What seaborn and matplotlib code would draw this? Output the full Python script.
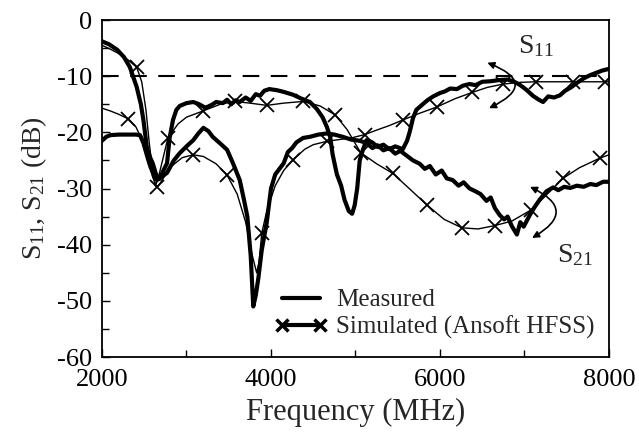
import numpy as np
import pandas as pd
import matplotlib
matplotlib.use("Agg")
import matplotlib.pyplot as plt
from matplotlib.lines import Line2D
import seaborn as sns

# Measured S11 (dB) versus frequency (MHz)
meas_s11_freq = [2000, 2080, 2180, 2260, 2330, 2410, 2460, 2490, 2530, 2570, 2600, 2640, 2680,
                 2720, 2770, 2800, 2840, 2880, 2920, 3000, 3080, 3150, 3220, 3280, 3350, 3430,
                 3480, 3530, 3580, 3630, 3700, 3760, 3820, 3870, 3920, 3980, 4070, 4150, 4260,
                 4360, 4460, 4540, 4610, 4660, 4700, 4730, 4780, 4830, 4870, 4920, 4960, 4990,
                 5020, 5050, 5090, 5130, 5200, 5260, 5330, 5400, 5470, 5560, 5610, 5640, 5680,
                 5720, 5780, 5850, 5920, 6000, 6060, 6120, 6200, 6270, 6350, 6420, 6500, 6600,
                 6700, 6800, 6880, 6950, 7020, 7100, 7170, 7220, 7280, 7350, 7420, 7480, 7550,
                 7620, 7700, 7780, 7850, 7920, 8000]
meas_s11_db = [-3.8, -4.3, -5.3, -6.6, -8.4, -11.9, -15.0, -17.8, -22.6, -24.5, -25.5, -27.5, -28.3,
               -27.0, -25.5, -21.0, -17.8, -16.0, -15.3, -14.8, -14.6, -15.0, -15.6, -15.3, -14.6, -14.8,
               -14.2, -15.0, -14.3, -14.6, -13.8, -14.4, -13.2, -13.5, -12.6, -12.3, -12.5, -12.8, -13.3,
               -14.0, -14.6, -15.8, -17.3, -19.0, -20.8, -24.0, -27.5, -29.5, -32.0, -34.0, -34.5, -33.0,
               -30.0, -25.0, -23.0, -21.4, -21.8, -22.6, -22.2, -23.0, -22.5, -23.0, -21.5, -20.0, -17.5,
               -16.0, -15.2, -14.3, -13.6, -13.0, -12.7, -12.2, -12.3, -11.7, -11.4, -11.6, -11.0, -10.9,
               -10.7, -10.6, -11.0, -11.6, -12.4, -13.5, -14.2, -14.6, -13.6, -13.8, -13.4, -12.6, -12.0,
               -11.2, -10.4, -9.8, -9.4, -9.0, -8.7]

# Measured S21 (dB) versus frequency (MHz)
meas_s21_freq = [2000, 2050, 2100, 2200, 2300, 2400, 2450, 2490, 2530, 2570, 2610, 2650, 2700,
                 2770, 2850, 2920, 3000, 3080, 3140, 3200, 3260, 3310, 3400, 3480, 3550, 3630,
                 3680, 3720, 3760, 3790, 3820, 3850, 3890, 3950, 4000, 4050, 4100, 4150, 4200,
                 4250, 4300, 4380, 4460, 4560, 4660, 4750, 4850, 4950, 5050, 5130, 5200, 5260,
                 5330, 5400, 5470, 5530, 5610, 5680, 5760, 5820, 5880, 5950, 6020, 6080, 6150,
                 6220, 6280, 6350, 6420, 6480, 6550, 6600, 6650, 6710, 6760, 6800, 6850, 6910,
                 6950, 6990, 7060, 7120, 7180, 7260, 7340, 7400, 7470, 7540, 7620, 7700, 7780,
                 7850, 7930, 8000]
meas_s21_db = [-21.5, -20.8, -20.5, -20.4, -20.4, -20.4, -20.5, -21.9, -24.0, -26.0, -27.5, -28.5, -28.0,
               -27.2, -25.0, -23.7, -22.5, -21.4, -20.2, -19.2, -19.8, -20.8, -22.0, -23.1, -25.5, -28.5,
               -32.0, -35.0, -42.0, -51.0, -49.0, -46.0, -41.0, -36.0, -30.0, -27.5, -26.5, -25.5, -23.5,
               -22.8, -21.8, -21.0, -20.8, -20.4, -20.2, -20.4, -20.8, -21.3, -21.5, -21.9, -22.8, -22.3,
               -23.2, -22.8, -23.8, -23.3, -24.2, -25.0, -25.6, -26.5, -26.0, -27.5, -26.8, -28.2, -28.5,
               -29.5, -28.9, -30.0, -30.5, -31.0, -32.2, -31.6, -33.5, -34.8, -35.5, -35.0, -36.7, -38.2,
               -36.0, -36.8, -34.8, -33.3, -32.0, -30.5, -29.8, -30.3, -29.7, -29.9, -29.5, -29.7, -29.2,
               -29.4, -28.8, -28.8]

# Simulated S11 (Ansoft HFSS), with the frequencies that carry a marker
sim_s11_freq = [2000, 2100, 2200, 2310, 2400, 2480, 2550, 2600, 2650, 2700, 2800, 2950, 3080,
                3200, 3350, 3480, 3600, 3700, 3780, 3830, 3860, 3890, 3950, 4050, 4150, 4260,
                4400, 4500, 4660, 4800, 4950, 5110, 5250, 5400, 5560, 5760, 5960, 6180, 6380,
                6560, 6750, 6950, 7140, 7350, 7570, 7780, 7950, 8000]
sim_s11_db = [-15.7, -16.2, -16.8, -17.6, -19.0, -21.5, -25.0, -28.0, -29.8, -28.8, -26.3, -24.5, -24.0,
              -24.3, -25.6, -27.6, -31.0, -36.0, -42.0, -45.0, -43.0, -38.0, -34.0, -29.5, -26.8, -24.9,
              -23.0, -22.2, -21.6, -21.3, -21.0, -20.4, -19.6, -18.8, -17.8, -16.6, -15.5, -14.0, -12.9,
              -12.0, -11.4, -11.1, -11.0, -11.0, -11.0, -11.0, -11.0, -11.0]
sim_s11_marks = [2310, 2650, 3080, 3480, 3890, 4260, 4660, 5110, 5560, 5960, 6380, 6750, 7140, 7570, 7950]

# Simulated S21 (Ansoft HFSS), with the frequencies that carry a marker
sim_s21_freq = [2000, 2100, 2200, 2300, 2410, 2470, 2520, 2560, 2600, 2630, 2660, 2700, 2780,
                2900, 3000, 3195, 3400, 3570, 3750, 3950, 4150, 4380, 4580, 4760, 4900, 5060,
                5250, 5440, 5650, 5850, 6050, 6260, 6450, 6650, 6850, 7080, 7250, 7455, 7650,
                7890, 8000]
sim_s21_db = [-4.5, -5.2, -6.0, -7.0, -8.4, -11.0, -16.0, -22.0, -27.0, -29.5, -28.5, -26.0, -21.0,
              -18.5, -17.3, -16.2, -15.0, -14.5, -14.8, -15.2, -14.8, -14.5, -15.3, -16.9, -19.5, -23.6,
              -25.6, -27.3, -30.2, -33.0, -35.5, -37.0, -37.2, -36.6, -35.8, -33.8, -31.3, -28.2, -26.3,
              -24.6, -24.0]
sim_s21_marks = [2410, 2780, 3195, 3570, 3950, 4380, 4760, 5060, 5440, 5850, 6260, 6650, 7080, 7455, 7890]

x_ticks = [2000, 4000, 6000, 8000]
y_ticks = [0, -10, -20, -30, -40, -50, -60]
legend_labels = ["Measured", "Simulated (Ansoft HFSS)"]

sns.set_style("ticks")
plt.rcParams["font.family"] = ["Liberation Serif", "DejaVu Serif"]
plt.rcParams["mathtext.fontset"] = "custom"
plt.rcParams["mathtext.rm"] = "Liberation Serif"
plt.rcParams["mathtext.it"] = "Liberation Serif:italic"
plt.rcParams["axes.unicode_minus"] = False

fig = plt.figure(figsize=(6.39, 4.40), dpi=100)
ax = fig.add_axes([102 / 639, 1 - 357 / 440, 507 / 639, 337 / 440])

thick = dict(color="black", linewidth=3.0, solid_joinstyle="round")
thin = dict(color="black", linewidth=1.0, marker="x", markersize=10,
            markeredgewidth=1.3, markeredgecolor="black", markerfacecolor="black")

meas_s11 = pd.DataFrame({"f": meas_s11_freq, "db": meas_s11_db})
meas_s21 = pd.DataFrame({"f": meas_s21_freq, "db": meas_s21_db})
sim_s11 = pd.DataFrame({"f": sim_s11_freq, "db": sim_s11_db})
sim_s21 = pd.DataFrame({"f": sim_s21_freq, "db": sim_s21_db})

sns.lineplot(data=meas_s11, x="f", y="db", ax=ax, sort=False, estimator=None, **thick)
sns.lineplot(data=meas_s21, x="f", y="db", ax=ax, sort=False, estimator=None, **thick)
sns.lineplot(data=sim_s11, x="f", y="db", ax=ax, sort=False, estimator=None,
             markevery=[sim_s11_freq.index(f) for f in sim_s11_marks], **thin)
sns.lineplot(data=sim_s21, x="f", y="db", ax=ax, sort=False, estimator=None,
             markevery=[sim_s21_freq.index(f) for f in sim_s21_marks], **thin)

# -10 dB reference
ax.axhline(-10, color="black", linewidth=1.5, linestyle=(0, (8, 5.5)))

ax.set_xlim(2000, 8000)
ax.set_ylim(-60, 0)
ax.set_xticks(x_ticks)
ax.set_yticks(y_ticks)
ax.set_xticks(np.arange(3000, 8000, 1000), minor=True)
ax.set_yticks(np.arange(-55, 0, 10), minor=True)
ax.tick_params(which="both", direction="in", labelsize=19, width=1.0, colors="black")
ax.tick_params(which="major", length=6)
ax.tick_params(which="minor", length=5)
ax.tick_params(axis="x", which="both", top=False, pad=8.5)
ax.tick_params(axis="y", which="both", right=False, pad=7)
for s in ax.spines.values():
    s.set_visible(True)
    s.set_linewidth(1.3)
    s.set_color("black")

ax.set_xlabel("Frequency (MHz)", fontsize=22, labelpad=5)
ax.set_ylabel(r"S$_\mathregular{11}$, S$_\mathregular{21}$ (dB)", fontsize=20, labelpad=6)

handles = [
    Line2D([], [], color="black", linewidth=3.0),
    Line2D([], [], color="black", linewidth=3.0, marker="x", markersize=9, markeredgewidth=2.5),
]
ax.legend(handles, legend_labels, loc="lower left", bbox_to_anchor=(0.341, 0.054),
          frameon=False, fontsize=18, handlelength=2.1, handletextpad=0.35,
          labelspacing=0.16, numpoints=2, borderpad=0.0, borderaxespad=0.0)

# curved two-headed arrows marking each group of curves
arrow_kw = dict(arrowstyle="<|-|>,head_length=0.4,head_width=0.2", color="black", lw=1.2,
                shrinkA=0, shrinkB=0)
ax.annotate("", xy=(6580, -15.7), xytext=(6560, -7.6),
            arrowprops=dict(connectionstyle="arc3,rad=-1.15", **arrow_kw))
ax.text(6920, -4.6, r"S$_\mathregular{11}$", fontsize=20, va="center", ha="left")
ax.annotate("", xy=(7090, -38.8), xytext=(7065, -29.7),
            arrowprops=dict(connectionstyle="arc3,rad=-0.95", **arrow_kw))
ax.text(7390, -41.8, r"S$_\mathregular{21}$", fontsize=20, va="center", ha="left")

fig.savefig("out.png", dpi=100)
